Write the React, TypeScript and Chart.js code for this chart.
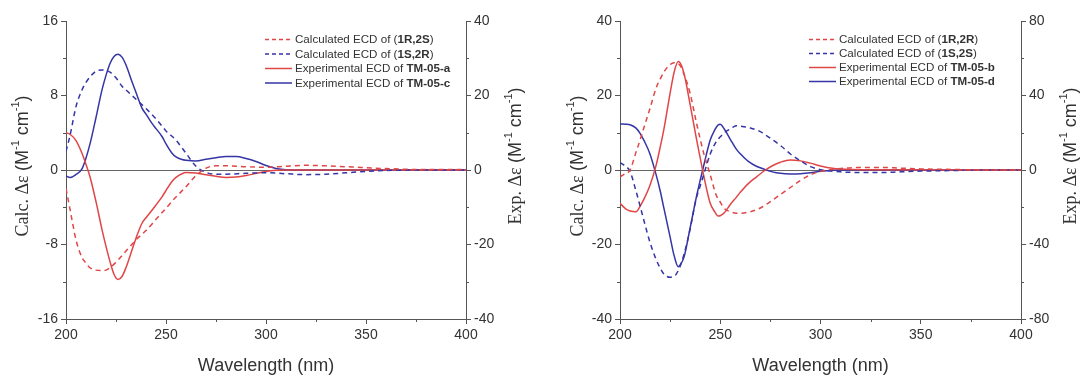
import React, { useEffect, useRef } from 'react';
import { Chart, registerables } from 'chart.js';
Chart.register(...registerables);

const RED = '#e04646';
const BLUE = '#3535a6';
const AXIS = '#555555';
const TXT = '#333333';

// ---------- Left panel data ----------
const wlCalcL = [200,202,205,208,210,212,215,218,220,222,225,228,230,235,240,245,250,255,260,265,270,275,280,290,300,310,320,330,340,350,360,380,400];
const calc1R2S = [-2.0,-4.2,-7.5,-9.4,-10.0,-10.5,-10.75,-10.8,-10.75,-10.5,-9.9,-9.2,-8.7,-7.5,-6.5,-5.3,-4.1,-2.9,-1.8,-0.6,0.2,0.45,0.45,0.35,0.3,0.4,0.5,0.45,0.35,0.25,0.15,0.05,0.05];
const calc1S2R = [2.0,3.7,6.8,8.6,9.4,10.0,10.6,10.75,10.7,10.5,9.9,9.0,8.6,7.6,6.6,5.5,4.2,3.2,1.8,0.4,-0.25,-0.45,-0.45,-0.35,-0.3,-0.4,-0.5,-0.45,-0.3,-0.15,-0.05,0,0];
const wlExpL = [200,202,205,208,210,212,215,218,220,222,224,226,228,230,233,235,238,240,243,245,248,250,253,255,258,260,265,270,275,280,285,290,295,300,305,310,330,360,400];
const expTM05a = [10.0,9.6,7.9,4.5,1.5,-1.8,-8.5,-16,-20.5,-24.6,-28,-29.4,-28.6,-26.2,-21.5,-18.3,-14.3,-12.8,-10.8,-9.4,-7.2,-5.5,-3.1,-2.0,-1.0,-0.7,-0.8,-1.3,-1.7,-2.0,-1.9,-1.5,-0.9,-0.4,-0.1,0,0,0,0];
const expTM05c = [-1.6,-2.0,-1.2,0.3,3.2,7.0,14.1,21.5,25.4,28.6,30.5,31.1,30.3,28.2,23.7,20.8,16.6,15.0,12.5,11.1,9.0,7.0,4.5,3.5,2.8,2.6,2.4,2.9,3.3,3.6,3.6,3.1,2.3,1.2,0.4,0.1,0,0,0];

// ---------- Right panel data ----------
const wlCalcR = [200,202,205,208,210,212,215,218,220,222,225,227,228,230,232,235,238,240,242,245,248,250,252,255,258,260,265,270,275,280,285,290,295,300,305,310,320,330,340,350,360,370,380,400];
const calc1R2R = [-1.8,-1.2,0,4.8,8.0,11.5,16.6,22,24.4,26.4,28.3,28.8,28.8,28,25.6,20.5,13,8.3,4,-1.3,-6.8,-8.6,-10.3,-11.2,-11.6,-11.6,-11.2,-10.2,-8.5,-6.6,-4.7,-2.8,-1.3,-0.4,0.1,0.4,0.7,0.7,0.5,0.3,0.2,0.1,0,0];
const calc1S2S = [2.0,1.3,-0.4,-5.7,-9.6,-13.7,-19.5,-24,-26.3,-28,-28.8,-28.5,-28,-25.8,-22.5,-15.8,-7.7,-4.3,-0.8,4.3,7.6,8.9,10,11.0,11.9,11.8,11.3,10.3,8.5,6.6,4.3,2.5,0.9,0.1,-0.3,-0.5,-0.7,-0.7,-0.5,-0.3,-0.2,-0.1,0,0];
const wlExpR = [200,203,205,208,210,212,215,218,220,222,225,227,229,230,232,235,238,240,242,245,247,249,250,252,255,258,260,264,268,272,276,280,285,290,295,300,306,310,320,400];
const expTM05b = [-17.9,-21,-22,-22.4,-19.5,-15.5,-8,2.5,12,22.5,41.3,52.5,58.2,57.5,51.5,35,17.5,6.5,-4.3,-17.9,-22,-24.7,-24.6,-23,-18.5,-14.7,-12,-7.3,-3.8,-0.4,2.3,4.2,5.4,4.9,3.7,2.2,0.9,0.5,0.1,0];
const expTM05d = [24.7,24.6,24.3,22.5,19.7,15.8,8.5,-2.5,-11,-21,-36,-46,-51.9,-51,-46.5,-31,-15,-5.5,3.5,16.1,21,24.2,24.5,22,16.5,11.2,8.7,4.6,2.0,0.4,-1.0,-1.8,-2.1,-2.0,-1.5,-0.7,-0.1,0,0,0];

// ---------- Axis / legend text ----------
const xTicks = [200, 250, 300, 350, 400];
const leftCalcRange = [-16, 16, 8];
const leftExpRange = [-40, 40, 20];
const rightCalcRange = [-40, 40, 20];
const rightExpRange = [-80, 80, 40];
const xTitle = 'Wavelength (nm)';
const legendLeftBold = ['1R,2S', '1S,2R', 'TM-05-a', 'TM-05-c'];
const legendRightBold = ['1R,2R', '1S,2S', 'TM-05-b', 'TM-05-d'];

const toPts = (xs: number[], ys: number[]) => xs.map((x, i) => ({ x, y: ys[i] }));

type Seg = { t: string; f: string; dy?: number };

function drawRich(ctx: CanvasRenderingContext2D, segs: Seg[], cx: number, cy: number, rot: number) {
  ctx.save();
  ctx.translate(cx, cy);
  ctx.rotate(rot);
  let total = 0;
  for (const s of segs) { ctx.font = s.f; total += ctx.measureText(s.t).width; }
  let x = -total / 2;
  ctx.textBaseline = 'middle';
  ctx.textAlign = 'left';
  ctx.fillStyle = TXT;
  for (const s of segs) {
    ctx.font = s.f;
    ctx.fillText(s.t, x, s.dy || 0);
    x += ctx.measureText(s.t).width;
  }
  ctx.restore();
}

const SANS18 = '18px "Liberation Sans"';
const SUP = '11px "Liberation Sans"';
const titleSegs = (lead: string): Seg[] => [
  { t: lead, f: '18px "Liberation Serif"' },
  { t: '(M', f: SANS18 },
  { t: '-1', f: SUP, dy: -7 },
  { t: ' cm', f: SANS18 },
  { t: '-1', f: SUP, dy: -7 },
  { t: ')', f: SANS18 },
];

type PanelCfg = {
  datasets: any[];
  calcRange: number[];
  expRange: number[];
  leftW: number;
  rightW: number;
  legendBold: string[];
  legendX: number;
  legendRows: number[];
  leftTitleX: number;
  rightTitleX: number;
};

function Panel({ cfg }: { cfg: PanelCfg }) {
  const ref = useRef<HTMLCanvasElement>(null);
  useEffect(() => {
    const canvas = ref.current;
    if (!canvas) return;
    const extras = {
      id: 'extras',
      afterDraw(chart: any) {
        const ctx: CanvasRenderingContext2D = chart.ctx;
        const area = chart.chartArea;
        const sx = chart.scales.x, sy = chart.scales.y, sy2 = chart.scales.y2;
        // minor ticks
        ctx.save();
        ctx.strokeStyle = AXIS;
        ctx.lineWidth = 1;
        ctx.beginPath();
        for (let v = 225; v < 400; v += 50) {
          const px = Math.round(sx.getPixelForValue(v)) + 0.5;
          ctx.moveTo(px, area.bottom); ctx.lineTo(px, area.bottom + 3);
        }
        const [a0, a1, as] = cfg.calcRange;
        for (let v = a0 + as / 2; v < a1; v += as) {
          const py = Math.round(sy.getPixelForValue(v)) + 0.5;
          ctx.moveTo(area.left, py); ctx.lineTo(area.left - 3, py);
        }
        const [b0, b1, bs] = cfg.expRange;
        for (let v = b0 + bs / 2; v < b1; v += bs) {
          const py = Math.round(sy2.getPixelForValue(v)) + 0.5;
          ctx.moveTo(area.right, py); ctx.lineTo(area.right + 3, py);
        }
        ctx.stroke();
        ctx.restore();
        // titles
        ctx.save();
        ctx.fillStyle = TXT;
        ctx.font = SANS18;
        ctx.textAlign = 'center';
        ctx.textBaseline = 'middle';
        ctx.fillText(xTitle, (area.left + area.right) / 2, 366);
        ctx.restore();
        drawRich(ctx, titleSegs('Calc. \u0394\u03b5 '), cfg.leftTitleX, 166, -Math.PI / 2);
        drawRich(ctx, titleSegs('Exp. \u0394\u03b5 '), cfg.rightTitleX, 156, -Math.PI / 2);
        // legend
        const FN = '11.6px "Liberation Sans"';
        const FB = 'bold 11.6px "Liberation Sans"';
        cfg.legendRows.forEach((ry, i) => {
          const isCalc = i < 2;
          const col = i % 2 === 0 ? RED : BLUE;
          ctx.save();
          ctx.strokeStyle = col;
          ctx.lineWidth = 1.5;
          ctx.setLineDash(isCalc ? [4, 3] : []);
          ctx.beginPath();
          ctx.moveTo(cfg.legendX, ry + 0.5);
          ctx.lineTo(cfg.legendX + 27, ry + 0.5);
          ctx.stroke();
          ctx.restore();
          const segs: Seg[] = isCalc
            ? [{ t: 'Calculated ECD of (', f: FN }, { t: cfg.legendBold[i], f: FB }, { t: ')', f: FN }]
            : [{ t: 'Experimental ECD of ', f: FN }, { t: cfg.legendBold[i], f: FB }];
          ctx.save();
          ctx.fillStyle = TXT;
          ctx.textBaseline = 'middle';
          ctx.textAlign = 'left';
          let x = cfg.legendX + 30;
          for (const s of segs) {
            ctx.font = s.f;
            ctx.fillText(s.t, x, ry + 1);
            x += ctx.measureText(s.t).width;
          }
          ctx.restore();
        });
      },
    };
    const tickFont = { family: 'Liberation Sans', size: 14 };
    const chart = new Chart(canvas, {
      type: 'line',
      data: { datasets: cfg.datasets },
      options: {
        responsive: false,
        animation: false,
        devicePixelRatio: 1,
        layout: { padding: { top: 21, left: 0, right: 0, bottom: 0 } },
        plugins: { legend: { display: false }, tooltip: { enabled: false } },
        elements: { point: { radius: 0 }, line: { borderWidth: 1.5, cubicInterpolationMode: 'monotone' } },
        scales: {
          x: {
            type: 'linear', min: 200, max: 400,
            afterBuildTicks: (s: any) => { s.ticks = xTicks.map((v) => ({ value: v })); },
            ticks: { color: TXT, font: tickFont, padding: 3, maxRotation: 0 },
            grid: { drawOnChartArea: false, tickLength: 5, tickColor: AXIS },
            border: { color: AXIS, width: 1 },
            afterFit: (s: any) => { s.height = 57; },
          },
          y: {
            type: 'linear', position: 'left',
            min: cfg.calcRange[0], max: cfg.calcRange[1],
            ticks: { stepSize: cfg.calcRange[2], color: TXT, font: tickFont, padding: 3 },
            grid: {
              color: (c: any) => (c.tick && c.tick.value === 0 ? '#666666' : 'rgba(0,0,0,0)'),
              tickLength: 5, tickColor: AXIS,
            },
            border: { color: AXIS, width: 1 },
            afterFit: (s: any) => { s.width = cfg.leftW; },
          },
          y2: {
            type: 'linear', position: 'right',
            min: cfg.expRange[0], max: cfg.expRange[1],
            ticks: { stepSize: cfg.expRange[2], color: TXT, font: tickFont, padding: 3 },
            grid: { drawOnChartArea: false, tickLength: 5, tickColor: AXIS },
            border: { color: AXIS, width: 1 },
            afterFit: (s: any) => { s.width = cfg.rightW; },
          },
        },
      } as any,
      plugins: [extras],
    });
    return () => chart.destroy();
  }, []);
  return <canvas ref={ref} width={540} height={376} style={{ display: 'block', width: 540, height: 376 }} />;
}

const ds = (label: string, xs: number[], ys: number[], color: string, dashed: boolean, axis: string) => ({
  label,
  data: toPts(xs, ys),
  borderColor: color,
  backgroundColor: color,
  borderDash: dashed ? [5, 4] : [],
  yAxisID: axis,
  fill: false,
});

const leftCfg: PanelCfg = {
  datasets: [
    ds('Calculated ECD of (1R,2S)', wlCalcL, calc1R2S, RED, true, 'y'),
    ds('Calculated ECD of (1S,2R)', wlCalcL, calc1S2R, BLUE, true, 'y'),
    ds('Experimental ECD of TM-05-a', wlExpL, expTM05a, RED, false, 'y2'),
    ds('Experimental ECD of TM-05-c', wlExpL, expTM05c, BLUE, false, 'y2'),
  ],
  calcRange: leftCalcRange,
  expRange: leftExpRange,
  leftW: 66,
  rightW: 74,
  legendBold: legendLeftBold,
  legendX: 265,
  legendRows: [39, 53.5, 68, 82.5],
  leftTitleX: 23,
  rightTitleX: 516,
};

const rightCfg: PanelCfg = {
  datasets: [
    ds('Calculated ECD of (1R,2R)', wlCalcR, calc1R2R, RED, true, 'y'),
    ds('Calculated ECD of (1S,2S)', wlCalcR, calc1S2S, BLUE, true, 'y'),
    ds('Experimental ECD of TM-05-b', wlExpR, expTM05b, RED, false, 'y2'),
    ds('Experimental ECD of TM-05-d', wlExpR, expTM05d, BLUE, false, 'y2'),
  ],
  calcRange: rightCalcRange,
  expRange: rightExpRange,
  leftW: 80,
  rightW: 59,
  legendBold: legendRightBold,
  legendX: 269,
  legendRows: [39, 53, 67, 81],
  leftTitleX: 38,
  rightTitleX: 531,
};

export default function App() {
  return (
    <div style={{ position: 'absolute', left: 0, top: 0, width: 1080, height: 376, display: 'flex', background: '#fff' }}>
      <Panel cfg={leftCfg} />
      <Panel cfg={rightCfg} />
    </div>
  );
}
